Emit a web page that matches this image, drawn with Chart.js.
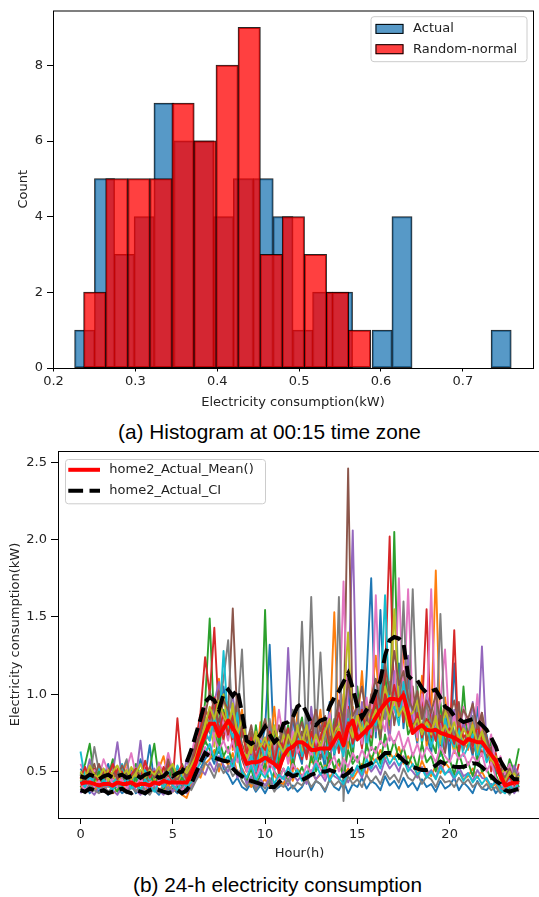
<!DOCTYPE html>
<html>
<head>
<meta charset="utf-8">
<title>Histogram and 24-h consumption</title>
<script src="https://cdn.jsdelivr.net/npm/chart.js@4.4.1/dist/chart.umd.min.js"></script>
<style>
    html, body { margin: 0; padding: 0; background: #fff; }
    body { position: relative; width: 539px; height: 897px; overflow: hidden; }
    canvas { position: absolute; left: 0; }
    #histChart { top: 0; }
    #lineChart { top: 440px; }
    .caption {
        position: absolute; left: 0; width: 539px; text-align: center;
        font-family: "Liberation Sans", Arial, sans-serif; font-size: 20.8px;
        line-height: 24px; color: #000; white-space: nowrap;
    }
</style>
</head>
<body>
<canvas id="histChart" width="539" height="420"></canvas>
<div class="caption" style="top: 419.7px;">(a) Histogram at 00:15 time zone</div>
<canvas id="lineChart" width="545" height="428"></canvas>
<div class="caption" style="top: 873px; left: 8px;">(b) 24-h electricity consumption</div>
<script>
(function() {
    'use strict';

    // ---- (a) histogram at 00:15: bin centres (kW) and counts ----
    var actualBins = [0.23809, 0.26232, 0.28654, 0.31076, 0.33499, 0.35921, 0.38344, 0.40766,
                      0.43188, 0.45611, 0.48033, 0.50456, 0.52878, 0.55300, 0.57723, 0.60145,
                      0.62568, 0.64990, 0.67412, 0.69835, 0.72257, 0.74680];
    var actualCounts = [1, 5, 3, 4, 7, 6, 6, 4, 5, 5, 4, 1, 2, 2, 0, 1, 4, 0, 0, 0, 0, 1];
    var randomBins = [0.25043, 0.27738, 0.30433, 0.33128, 0.35823, 0.38518, 0.41213,
                      0.43908, 0.46603, 0.49298, 0.51993, 0.54688, 0.57383];
    var randomCounts = [2, 5, 5, 5, 7, 6, 8, 9, 3, 4, 3, 2, 1];
    var histXTicks = [0.2, 0.3, 0.4, 0.5, 0.6, 0.7];
    var histYTicks = [0, 2, 4, 6, 8];

    // ---- (b) 24-h consumption, 15-min slots (kW) ----
    var hours = [0, 0.25, 0.5, 0.75, 1, 1.25, 1.5, 1.75, 2, 2.25, 2.5, 2.75, 3, 3.25, 3.5, 3.75,
                 4, 4.25, 4.5, 4.75, 5, 5.25, 5.5, 5.75, 6, 6.25, 6.5, 6.75, 7, 7.25, 7.5, 7.75,
                 8, 8.25, 8.5, 8.75, 9, 9.25, 9.5, 9.75, 10, 10.25, 10.5, 10.75, 11, 11.25, 11.5, 11.75,
                 12, 12.25, 12.5, 12.75, 13, 13.25, 13.5, 13.75, 14, 14.25, 14.5, 14.75, 15, 15.25, 15.5, 15.75,
                 16, 16.25, 16.5, 16.75, 17, 17.25, 17.5, 17.75, 18, 18.25, 18.5, 18.75, 19, 19.25, 19.5, 19.75,
                 20, 20.25, 20.5, 20.75, 21, 21.25, 21.5, 21.75, 22, 22.25, 22.5, 22.75, 23, 23.25, 23.5, 23.75];

    var day01 = [0.52,0.47,0.44,0.50, 0.41,0.46,0.55,0.43, 0.48,0.40,0.45,0.52, 0.44,0.58,0.47,0.67,
                 0.42,0.49,0.45,0.40, 0.47,0.53,0.44,0.50, 0.58,0.66,0.72,0.81, 0.75,0.92,0.68,1.05,
                 0.83,0.71,0.96,0.62, 0.55,0.70,0.48,0.66, 0.78,1.32,0.60,0.52, 0.70,0.58,0.85,0.64,
                 0.55,0.90,0.62,0.74, 0.68,0.52,0.95,0.60, 0.82,0.70,1.05,0.62, 0.90,0.66,1.12,1.75,
                 0.72,1.545,0.88,1.02, 0.95,1.20,0.78,1.10, 0.84,0.68,1.02,0.74, 0.62,0.88,0.70,0.95,
                 0.58,1.20,0.66,0.80, 0.72,0.60,0.92,0.66, 0.74,0.58,0.52,0.47, 0.42,0.50,0.38,0.45];
    var day02 = [0.45,0.50,0.42,0.47, 0.53,0.44,0.40,0.49, 0.42,0.47,0.56,0.44, 0.50,0.43,0.48,0.41,
                 0.46,0.52,0.60,0.45, 0.40,0.48,0.43,0.37, 0.45,0.62,0.55,0.78, 0.88,0.70,1.10,0.82,
                 0.95,0.64,0.78,0.90, 0.60,0.74,0.55,0.82, 0.50,0.66,0.92,0.58, 0.75,0.62,0.50,0.88,
                 0.64,0.78,0.56,0.70, 0.90,0.58,0.76,1.53, 0.70,1.00,0.65,0.92, 0.78,1.15,0.70,0.96,
                 1.25,0.85,1.05,0.72, 1.10,0.88,1.30,0.80, 0.92,0.70,1.12,0.66, 0.85,1.80,0.72,0.98,
                 0.76,0.62,0.90,0.70, 0.64,0.85,0.58,0.78, 0.68,0.55,0.60,0.44, 0.47,0.40,0.52,0.43];
    var day03 = [0.48,0.55,0.68,0.46, 0.50,0.42,0.47,0.58, 0.44,0.51,0.40,0.46, 0.55,0.47,0.42,0.52,
                 0.68,0.45,0.50,0.43, 0.49,0.41,0.55,0.46, 0.52,0.48,0.70,0.95, 1.49,0.78,0.62,0.90,
                 0.72,0.85,0.58,0.76, 0.64,0.52,0.80,0.60, 1.545,0.62,0.75,0.55, 0.68,0.80,0.57,0.72,
                 0.85,0.60,0.70,0.52, 0.62,0.78,0.55,0.84, 0.66,0.90,0.74,0.58, 1.05,0.72,0.86,0.64,
                 0.92,0.68,1.15,0.80, 2.05,0.85,0.98,0.74, 0.80,1.05,0.68,0.90, 0.70,0.62,0.95,0.66,
                 0.88,0.74,0.60,1.05, 0.66,0.78,0.55,0.72, 0.60,0.70,0.48,0.52, 0.45,0.58,0.50,0.65];
    var day04 = [0.43,0.40,0.47,0.52, 0.45,0.50,0.43,0.40, 0.52,0.45,0.48,0.42, 0.40,0.46,0.53,0.44,
                 0.48,0.42,0.46,0.55, 0.44,0.845,0.50,0.46, 0.55,0.70,0.88,1.24, 1.00,1.43,0.85,0.70,
                 0.92,0.66,0.80,0.58, 0.50,0.62,0.45,0.58, 0.70,0.52,0.66,0.48, 0.60,0.75,0.52,0.68,
                 0.58,0.72,0.85,0.60, 0.74,0.62,0.55,0.80, 0.62,0.78,0.92,0.70, 0.84,0.65,0.95,0.72,
                 1.00,0.82,1.12,2.02, 0.90,1.05,0.82,1.18, 0.95,0.78,0.88,1.55, 0.72,0.92,0.66,0.80,
                 0.70,1.415,0.62,0.78, 0.85,0.64,0.76,0.60, 0.72,0.50,0.62,0.46, 0.40,0.48,0.42,0.55];
    var day05 = [0.50,0.46,0.58,0.43, 0.47,0.52,0.44,0.49, 0.69,0.45,0.41,0.50, 0.46,0.70,0.43,0.48,
                 0.52,0.44,0.49,0.42, 0.46,0.50,0.42,0.58, 0.48,0.60,0.82,0.74, 0.70,0.95,1.08,0.76,
                 0.86,1.00,0.70,0.84, 0.66,0.58,0.72,0.50, 0.62,0.80,0.55,0.70, 0.58,1.30,0.66,0.82,
                 0.70,0.60,0.92,0.64, 0.80,0.66,0.58,0.74, 0.86,0.64,1.00,2.06, 0.72,0.95,0.68,0.88,
                 0.76,1.10,0.90,0.70, 1.15,0.86,0.96,1.25, 0.82,0.95,0.72,1.00, 0.90,0.70,0.84,0.64,
                 0.76,0.90,0.68,0.82, 0.70,0.95,0.64,1.31, 0.66,0.72,0.55,0.58, 0.50,0.44,0.54,0.47];
    var day06 = [0.46,0.42,0.50,0.55, 0.43,0.48,0.52,0.45, 0.49,0.53,0.46,0.40, 0.45,0.49,0.41,0.46,
                 0.50,0.47,0.43,0.52, 0.45,0.42,0.48,0.53, 0.50,0.58,0.66,0.72, 0.90,0.80,1.02,0.75,
                 0.88,1.555,0.82,0.68, 0.60,0.76,0.54,0.64, 0.72,0.58,0.68,0.80, 0.62,0.72,0.58,0.66,
                 0.76,0.62,0.66,0.88, 0.58,0.70,0.84,0.62, 0.92,0.74,2.46,0.80, 0.70,0.88,0.76,1.00,
                 0.85,0.72,0.95,1.08, 0.80,1.00,1.12,0.90, 1.05,0.80,0.92,0.70, 0.78,0.95,0.74,0.62,
                 0.84,0.70,0.95,0.66, 0.78,0.62,0.70,0.88, 0.58,0.66,0.50,0.55, 0.44,0.52,0.40,0.47];
    var day07 = [0.55,0.48,0.44,0.51, 0.46,0.58,0.50,0.44, 0.47,0.43,0.52,0.62, 0.48,0.44,0.55,0.50,
                 0.43,0.56,0.48,0.62, 0.51,0.46,0.40,0.49, 0.60,0.75,0.65,0.92, 0.82,0.72,0.95,0.80,
                 0.70,0.90,0.76,0.65, 0.55,0.68,0.62,0.74, 0.58,0.72,0.64,0.90, 0.70,0.55,0.76,0.62,
                 0.68,0.80,0.58,0.72, 0.62,0.74,0.88,0.66, 0.75,1.73,0.70,0.90, 0.80,0.68,0.98,0.74,
                 1.64,0.86,0.76,1.02, 0.88,1.75,0.92,1.68, 0.90,0.72,1.00,0.84, 1.68,0.80,0.96,1.29,
                 0.74,0.86,0.70,0.92, 0.80,0.66,1.00,0.72, 0.62,0.74,0.52,0.60, 0.48,0.55,0.44,0.50];
    var day08 = [0.47,0.52,0.45,0.66, 0.50,0.44,0.48,0.53, 0.45,0.50,0.58,0.43, 0.52,0.46,0.49,0.44,
                 0.47,0.50,0.44,0.48, 0.53,0.45,0.51,0.44, 0.62,0.55,0.78,0.68, 0.85,0.76,0.92,1.10,
                 1.35,0.78,0.86,1.29, 0.62,0.70,0.58,0.76, 0.66,0.84,0.60,0.72, 0.76,0.64,0.90,0.70,
                 1.47,0.66,1.63,0.72, 1.27,0.70,0.82,0.64, 1.63,0.31,0.90,0.76, 0.95,0.80,0.72,0.90,
                 0.78,1.10,0.84,0.96, 1.02,0.90,1.60,0.82, 1.68,0.86,0.78,0.94, 0.80,0.70,1.52,0.76,
                 0.88,0.72,0.80,0.64, 0.74,0.86,0.68,0.76, 0.70,0.60,0.56,0.50, 0.46,0.42,0.51,0.45];
    var day09 = [0.44,0.50,0.47,0.42, 0.48,0.45,0.51,0.47, 0.43,0.49,0.44,0.53, 0.47,0.51,0.45,0.49,
                 0.44,0.48,0.52,0.46, 0.50,0.44,0.47,0.52, 0.56,0.64,0.60,0.85, 0.78,0.66,0.90,1.00,
                 0.76,0.94,0.70,0.82, 0.58,0.66,0.74,0.56, 0.68,0.60,0.78,0.64, 0.74,0.60,0.70,0.80,
                 0.62,0.74,0.66,0.58, 0.72,0.84,0.64,0.76, 0.80,0.95,1.40,0.74, 0.86,0.76,0.92,0.82,
                 0.90,0.78,1.05,0.94, 1.55,0.92,1.00,0.86, 0.88,0.96,0.76,0.84, 0.74,0.86,0.68,0.90,
                 0.80,0.64,0.76,0.70, 0.68,0.80,0.62,0.74, 0.64,0.56,0.60,0.48, 0.52,0.46,0.49,0.43];
    var day10 = [0.63,0.45,0.40,0.48, 0.52,0.41,0.46,0.43, 0.46,0.55,0.42,0.47, 0.43,0.48,0.51,0.45,
                 0.49,0.43,0.47,0.50, 0.42,0.54,0.46,0.40, 0.47,0.52,0.60,0.76, 0.70,0.85,0.78,1.28,
                 0.80,0.72,0.88,0.60, 0.52,0.60,0.50,0.70, 0.56,0.74,0.50,0.66, 0.62,0.70,0.54,0.76,
                 0.60,0.68,0.74,0.56, 0.66,0.58,0.72,0.62, 0.70,0.60,0.84,0.66, 0.76,0.90,0.64,0.84,
                 0.80,0.95,1.64,0.88, 0.92,0.80,1.08,0.90, 0.76,0.88,0.70,0.82, 0.66,0.78,0.60,0.84,
                 0.72,0.66,0.78,0.60, 0.66,0.74,0.58,0.70, 0.56,0.62,0.46,0.42, 0.38,0.45,0.41,0.48];
    var day11 = [0.38,0.42,0.36,0.40, 0.37,0.41,0.35,0.39, 0.40,0.36,0.38,0.42, 0.36,0.39,0.35,0.41,
                 0.38,0.35,0.40,0.37, 0.39,0.36,0.41,0.38, 0.40,0.45,0.52,0.58, 0.62,0.55,0.66,0.52,
                 0.48,0.42,0.46,0.40, 0.38,0.43,0.37,0.41, 0.36,0.42,0.38,0.40, 0.43,0.38,0.41,0.37,
                 0.40,0.46,0.38,0.44, 0.42,0.37,0.45,0.40, 0.38,0.44,0.36,0.42, 0.40,0.46,0.39,0.44,
                 0.42,0.38,0.47,0.41, 0.44,0.39,0.46,0.40, 0.43,0.38,0.45,0.40, 0.42,0.37,0.44,0.39,
                 0.41,0.46,0.38,0.43, 0.40,0.36,0.44,0.39, 0.38,0.42,0.36,0.40, 0.36,0.40,0.37,0.41];
    var day12 = [0.40,0.37,0.43,0.38, 0.41,0.38,0.44,0.36, 0.38,0.42,0.37,0.40, 0.43,0.37,0.40,0.36,
                 0.41,0.39,0.36,0.42, 0.37,0.40,0.35,0.33, 0.42,0.50,0.46,0.55, 0.58,0.64,0.50,0.60,
                 0.54,0.62,0.48,0.52, 0.46,0.40,0.47,0.42, 0.45,0.40,0.48,0.43, 0.42,0.50,0.44,0.52,
                 0.47,0.43,0.50,0.45, 0.48,0.54,0.46,0.51, 0.55,0.47,0.52,0.45, 0.50,0.55,0.48,0.60,
                 0.56,0.64,0.58,0.62, 0.58,0.66,0.55,0.60, 0.54,0.48,0.57,0.50, 0.47,0.54,0.49,0.56,
                 0.52,0.46,0.50,0.45, 0.47,0.52,0.46,0.50, 0.44,0.40,0.42,0.37, 0.40,0.36,0.42,0.38];
    var day13 = [0.40,0.46,0.38,0.44, 0.50,0.39,0.45,0.41, 0.37,0.44,0.49,0.40, 0.46,0.38,0.43,0.50,
                 0.41,0.47,0.39,0.45, 0.52,0.40,0.46,0.42, 0.48,0.55,0.62,0.70, 0.64,0.58,0.72,0.60,
                 0.66,0.54,0.62,0.48, 0.44,0.52,0.40,0.48, 0.55,0.42,0.50,0.46, 0.52,0.44,0.58,0.47,
                 0.53,0.45,0.60,0.50, 0.56,0.48,0.62,0.52, 0.58,0.46,0.64,0.55, 0.60,0.50,0.68,0.57,
                 0.66,0.55,0.74,0.60, 0.70,0.58,0.66,0.54, 0.62,0.52,0.68,0.56, 0.60,0.50,0.64,0.55,
                 0.58,0.48,0.62,0.52, 0.56,0.47,0.60,0.50, 0.52,0.45,0.48,0.41, 0.44,0.38,0.46,0.40];
    var day14 = [0.46,0.53,0.44,0.49, 0.42,0.51,0.47,0.55, 0.45,0.50,0.43,0.48, 0.52,0.45,0.57,0.46,
                 0.50,0.44,0.53,0.47, 0.43,0.49,0.54,0.45, 0.52,0.64,0.78,0.90, 0.84,0.98,0.76,0.88,
                 0.74,0.86,0.66,0.78, 0.62,0.72,0.58,0.68, 0.64,0.76,0.56,0.70, 0.66,0.78,0.60,0.74,
                 0.70,0.58,0.76,0.64, 0.72,0.82,0.66,0.78, 0.88,0.72,0.82,0.68, 0.78,0.90,0.74,0.86,
                 0.96,0.82,1.00,0.88, 1.06,0.92,1.02,0.84, 0.76,0.88,0.72,0.84, 0.80,0.70,0.86,0.74,
                 0.78,0.68,0.82,0.72, 0.76,0.66,0.80,0.70, 0.64,0.58,0.52,0.46, 0.42,0.47,0.40,0.44];
    var day15 = [0.36,0.41,0.38,0.35, 0.40,0.37,0.42,0.38, 0.35,0.40,0.37,0.43, 0.38,0.35,0.41,0.37,
                 0.42,0.38,0.35,0.40, 0.37,0.42,0.38,0.36, 0.40,0.46,0.52,0.48, 0.56,0.50,0.60,0.54,
                 0.50,0.58,0.46,0.52, 0.42,0.47,0.40,0.45, 0.41,0.46,0.39,0.44, 0.47,0.41,0.49,0.44,
                 0.48,0.42,0.51,0.45, 0.49,0.44,0.52,0.47, 0.45,0.50,0.43,0.49, 0.52,0.46,0.55,0.50,
                 0.54,0.48,0.58,0.52, 0.56,0.50,0.60,0.53, 0.50,0.46,0.53,0.48, 0.51,0.46,0.55,0.49,
                 0.50,0.45,0.53,0.47, 0.49,0.44,0.51,0.46, 0.45,0.41,0.43,0.39, 0.37,0.41,0.36,0.40];
    var day16 = [0.48,0.43,0.52,0.46, 0.55,0.47,0.42,0.50, 0.46,0.54,0.48,0.44, 0.51,0.47,0.44,0.53,
                 0.46,0.51,0.45,0.58, 0.48,0.44,0.52,0.47, 0.56,0.68,0.74,0.86, 1.02,0.90,0.82,0.96,
                 0.90,0.78,0.98,0.74, 0.68,0.80,0.64,0.74, 0.84,0.70,0.78,0.66, 0.80,0.68,0.86,0.72,
                 0.82,0.70,0.78,0.90, 0.76,0.86,0.70,0.80, 0.96,0.82,1.10,0.86, 0.92,1.05,0.84,0.98,
                 1.10,0.92,1.20,1.00, 1.28,1.06,1.15,0.98, 0.90,1.02,0.84,0.96, 0.88,1.00,0.82,0.92,
                 0.86,0.96,0.80,0.90, 0.84,0.94,0.78,0.88, 0.72,0.62,0.56,0.50, 0.46,0.52,0.44,0.49];
    var day17 = [0.42,0.38,0.45,0.40, 0.44,0.39,0.47,0.42, 0.40,0.45,0.39,0.44, 0.41,0.46,0.40,0.43,
                 0.39,0.45,0.41,0.46, 0.40,0.44,0.38,0.43, 0.46,0.52,0.58,0.66, 0.60,0.72,0.64,0.70,
                 0.62,0.70,0.56,0.64, 0.50,0.56,0.46,0.54, 0.48,0.56,0.50,0.44, 0.52,0.46,0.55,0.50,
                 0.46,0.54,0.49,0.57, 0.52,0.46,0.55,0.60, 0.50,0.58,0.53,0.62, 0.56,0.64,0.58,0.66,
                 0.62,0.70,0.66,0.74, 0.68,0.76,0.64,0.72, 0.60,0.68,0.58,0.66, 0.62,0.56,0.66,0.60,
                 0.56,0.64,0.58,0.62, 0.54,0.60,0.56,0.62, 0.50,0.56,0.46,0.42, 0.40,0.44,0.39,0.43];
    var day18 = [0.39,0.36,0.42,0.38, 0.36,0.41,0.37,0.40, 0.42,0.38,0.36,0.40, 0.37,0.42,0.38,0.35,
                 0.40,0.36,0.42,0.38, 0.41,0.37,0.40,0.44, 0.38,0.44,0.49,0.56, 0.52,0.46,0.55,0.49,
                 0.54,0.47,0.51,0.44, 0.40,0.45,0.38,0.43, 0.39,0.44,0.37,0.42, 0.40,0.45,0.39,0.43,
                 0.41,0.46,0.40,0.44, 0.42,0.38,0.45,0.41, 0.44,0.39,0.47,0.42, 0.45,0.40,0.48,0.43,
                 0.47,0.42,0.50,0.45, 0.48,0.43,0.52,0.46, 0.44,0.49,0.42,0.47, 0.45,0.40,0.47,0.43,
                 0.44,0.40,0.46,0.42, 0.45,0.40,0.43,0.39, 0.42,0.38,0.40,0.36, 0.39,0.35,0.40,0.37];
    var day19 = [0.50,0.45,0.54,0.48, 0.46,0.52,0.44,0.50, 0.54,0.47,0.51,0.45, 0.49,0.55,0.46,0.51,
                 0.48,0.53,0.46,0.51, 0.55,0.47,0.52,0.49, 0.54,0.60,0.70,0.80, 0.92,0.84,0.96,0.86,
                 0.80,0.92,0.74,0.84, 0.70,0.62,0.76,0.66, 0.72,0.64,0.80,0.68, 0.62,0.74,0.66,0.78,
                 0.68,0.80,0.64,0.74, 0.66,0.76,0.84,0.70, 0.78,0.66,0.80,0.72, 0.86,0.74,0.82,0.78,
                 0.88,0.80,0.94,0.84, 0.98,0.86,0.92,0.80, 0.78,0.84,0.74,0.82, 0.76,0.84,0.72,0.80,
                 0.74,0.82,0.70,0.78, 0.72,0.80,0.68,0.76, 0.66,0.58,0.54,0.48, 0.44,0.50,0.43,0.47];
    var day20 = [0.44,0.40,0.47,0.42, 0.39,0.45,0.41,0.38, 0.44,0.40,0.46,0.39, 0.42,0.38,0.45,0.41,
                 0.37,0.43,0.40,0.45, 0.41,0.38,0.44,0.40, 0.43,0.50,0.56,0.62, 0.68,0.58,0.66,0.56,
                 0.60,0.52,0.66,0.50, 0.46,0.54,0.44,0.50, 0.46,0.52,0.42,0.48, 0.45,0.53,0.47,0.51,
                 0.44,0.50,0.47,0.55, 0.48,0.53,0.44,0.50, 0.46,0.42,0.50,0.47, 0.54,0.48,0.58,0.52,
                 0.58,0.52,0.62,0.55, 0.60,0.54,0.58,0.50, 0.55,0.48,0.52,0.46, 0.50,0.45,0.53,0.48,
                 0.52,0.46,0.50,0.44, 0.49,0.43,0.47,0.42, 0.46,0.40,0.44,0.38, 0.36,0.41,0.38,0.43];

    var meanLine = [0.42,0.43,0.43,0.42, 0.41,0.42,0.42,0.41, 0.43,0.42,0.42,0.43, 0.41,0.42,0.42,0.41,
                    0.43,0.42,0.44,0.43, 0.43,0.43,0.43,0.43, 0.48,0.56,0.66,0.74, 0.81,0.81,0.73,0.78,
                    0.83,0.78,0.73,0.62, 0.55,0.56,0.56,0.57, 0.59,0.57,0.55,0.52, 0.60,0.645,0.66,0.69,
                    0.69,0.67,0.64,0.64, 0.65,0.65,0.65,0.70, 0.75,0.67,0.79,0.83, 0.71,0.74,0.77,0.80,
                    0.85,0.90,0.94,0.97, 0.97,0.96,0.995,0.88, 0.75,0.78,0.80,0.77, 0.765,0.77,0.75,0.74,
                    0.73,0.72,0.70,0.68, 0.71,0.70,0.69,0.69, 0.65,0.61,0.57,0.48, 0.41,0.42,0.43,0.43];
    var ciUpper = [0.47,0.46,0.48,0.47, 0.45,0.47,0.48,0.46, 0.47,0.48,0.46,0.47, 0.48,0.46,0.48,0.49,
                   0.48,0.46,0.47,0.50, 0.47,0.49,0.50,0.56, 0.64,0.74,0.84,0.95, 0.98,0.96,0.90,1.00,
                   1.03,0.99,1.03,0.88, 0.70,0.68,0.70,0.74, 0.79,0.74,0.69,0.72, 0.81,0.82,0.85,0.92,
                   0.94,0.88,0.81,0.80, 0.83,0.84,0.92,0.98, 1.02,1.08,1.135,1.04, 0.92,0.85,0.90,0.94,
                   1.02,1.09,1.25,1.35, 1.37,1.36,1.33,1.12, 1.09,1.09,1.04,1.01, 1.02,1.03,0.98,0.92,
                   0.90,0.86,0.84,0.82, 0.83,0.84,0.83,0.80, 0.77,0.72,0.66,0.57, 0.52,0.48,0.45,0.45];
    var ciLower = [0.38,0.37,0.39,0.38, 0.37,0.38,0.36,0.37, 0.38,0.39,0.37,0.36, 0.38,0.37,0.36,0.38,
                   0.39,0.38,0.37,0.36, 0.37,0.38,0.36,0.38, 0.42,0.49,0.56,0.62, 0.60,0.59,0.58,0.57,
                   0.565,0.52,0.49,0.47, 0.446,0.44,0.43,0.42, 0.41,0.40,0.40,0.43, 0.46,0.49,0.47,0.48,
                   0.446,0.46,0.48,0.49, 0.50,0.50,0.51,0.50, 0.48,0.47,0.49,0.52, 0.52,0.53,0.54,0.555,
                   0.57,0.59,0.62,0.62, 0.62,0.60,0.57,0.55, 0.53,0.52,0.51,0.51, 0.52,0.54,0.565,0.55,
                   0.54,0.532,0.53,0.532, 0.54,0.554,0.55,0.53, 0.50,0.47,0.44,0.42, 0.38,0.37,0.38,0.39];

    var lineXTicks = [0, 5, 10, 15, 20];
    var lineYTicks = [0.5, 1.0, 1.5, 2.0, 2.5];

    var days = [day01, day02, day03, day04, day05, day06, day07, day08, day09, day10,
                day11, day12, day13, day14, day15, day16, day17, day18, day19, day20];
    var tab10 = ['#1f77b4', '#ff7f0e', '#2ca02c', '#d62728', '#9467bd',
                 '#8c564b', '#e377c2', '#7f7f7f', '#bcbd22', '#17becf'];

    Chart.defaults.font.family = '"DejaVu Sans", sans-serif';
    Chart.defaults.font.size = 13;
    Chart.defaults.color = '#222';
    Chart.defaults.animation = false;

    // matplotlib draws a full box round the axes
    var framePlugin = {
        id: 'frame',
        afterDatasetsDraw: function(chart) {
            var a = chart.chartArea, ctx = chart.ctx;
            ctx.save();
            ctx.strokeStyle = '#000';
            ctx.lineWidth = 1;
            ctx.strokeRect(a.left + 0.5, a.top + 0.5, a.right - a.left, a.bottom - a.top);
            ctx.restore();
        }
    };

    function roundedBox(ctx, x, y, w, h, r) {
        ctx.beginPath();
        ctx.moveTo(x + r, y);
        ctx.arcTo(x + w, y, x + w, y + h, r);
        ctx.arcTo(x + w, y + h, x, y + h, r);
        ctx.arcTo(x, y + h, x, y, r);
        ctx.arcTo(x, y, x + w, y, r);
        ctx.closePath();
    }

    // legend box inside the axes, styled like matplotlib's
    function makeLegend(cfg) {
        return {
            id: 'boxLegend',
            afterDraw: function(chart) {
                var ctx = chart.ctx, a = chart.chartArea;
                var left = cfg.corner === 'right' ? a.right - cfg.dx - cfg.width : a.left + cfg.dx;
                var top = a.top + cfg.dy;
                ctx.save();
                roundedBox(ctx, left + 0.5, top + 0.5, cfg.width, cfg.height, 3);
                ctx.fillStyle = 'rgba(255,255,255,0.8)';
                ctx.fill();
                ctx.strokeStyle = '#cccccc';
                ctx.lineWidth = 1;
                ctx.stroke();
                ctx.font = cfg.fontSize + 'px "DejaVu Sans"';
                ctx.textBaseline = 'middle';
                cfg.items.forEach(function(idx, i) {
                    var ds = chart.data.datasets[idx];
                    var cy = top + cfg.rows[i];
                    if (cfg.kind === 'patch') {
                        ctx.fillStyle = ds.backgroundColor;
                        ctx.fillRect(left + cfg.markX, cy - 5, cfg.markW, 10);
                        ctx.strokeStyle = '#000';
                        ctx.lineWidth = 1;
                        ctx.strokeRect(left + cfg.markX + 0.5, cy - 4.5, cfg.markW - 1, 9);
                    } else {
                        ctx.beginPath();
                        ctx.setLineDash(ds.borderDash || []);
                        ctx.strokeStyle = ds.borderColor;
                        ctx.lineWidth = ds.borderWidth;
                        ctx.moveTo(left + cfg.markX, cy);
                        ctx.lineTo(left + cfg.markX + cfg.markW, cy);
                        ctx.stroke();
                        ctx.setLineDash([]);
                    }
                    ctx.fillStyle = '#222';
                    ctx.fillText(ds.label, left + cfg.textX, cy);
                });
                ctx.restore();
            }
        };
    }

    function fixedTicks(list) {
        return function(axis) {
            axis.ticks = list.map(function(v) { return {value: v}; });
        };
    }

    function toPoints(xs, ys) {
        return xs.map(function(x, i) { return {x: x, y: ys[i]}; });
    }

    // ---------------- (a) ----------------
    new Chart(document.getElementById('histChart'), {
        type: 'bar',
        data: {
            datasets: [{
                label: 'Actual',
                xAxisID: 'x',
                data: toPoints(actualBins, actualCounts),
                backgroundColor: 'rgba(31,119,180,0.75)',
                borderColor: 'rgba(0,0,0,0.85)',
                borderWidth: 1,
                borderSkipped: false,
                inflateAmount: 0.5,
                grouped: false,
                barPercentage: 1,
                categoryPercentage: 1,
                order: 2
            }, {
                label: 'Random-normal',
                xAxisID: 'x2',
                data: toPoints(randomBins, randomCounts),
                backgroundColor: 'rgba(255,0,0,0.75)',
                borderColor: 'rgba(0,0,0,0.85)',
                borderWidth: 1,
                borderSkipped: false,
                inflateAmount: 0.5,
                grouped: false,
                barPercentage: 1,
                categoryPercentage: 1,
                order: 1
            }]
        },
        options: {
            responsive: false,
            layout: {padding: {top: 9, right: 6, left: 0, bottom: 0}},
            plugins: {legend: {display: false}, tooltip: {enabled: false}},
            scales: {
                x: {
                    type: 'linear', min: 0.1994, max: 0.7857, offset: false,
                    afterBuildTicks: fixedTicks(histXTicks),
                    afterFit: function(s) { s.height = 52; },
                    grid: {offset: false, drawOnChartArea: false, tickLength: 3.5, color: '#000'},
                    border: {display: false},
                    ticks: {autoSkip: false, maxRotation: 0, padding: 4, font: {lineHeight: 1},
                            callback: function(v) { return v.toFixed(1); }},
                    title: {display: true, text: 'Electricity consumption(kW)', padding: {top: 0, bottom: 9.5}}
                },
                x2: {
                    type: 'linear', min: 0.1994, max: 0.7857, offset: false, display: false,
                    grid: {offset: false}
                },
                y: {
                    type: 'linear', min: 0, max: 9.45,
                    afterBuildTicks: fixedTicks(histYTicks),
                    afterFit: function(s) { s.width = 53; },
                    grid: {drawOnChartArea: false, tickLength: 6, color: '#000'},
                    border: {display: false},
                    ticks: {padding: 4, font: {lineHeight: 1}},
                    title: {display: true, text: 'Count', padding: {top: 15.5, bottom: 0}}
                }
            }
        },
        plugins: [framePlugin, makeLegend({
            corner: 'right', dx: 6.5, dy: 5.7, width: 156, height: 45,
            rows: [12.7, 33], items: [0, 1], kind: 'patch',
            markX: 5, markW: 28, textX: 42.6, fontSize: 13
        })]
    });

    // ---------------- (b) ----------------
    var lineSets = days.map(function(d, i) {
        return {
            label: 'day ' + (i + 1),
            data: d,
            borderColor: tab10[i % tab10.length],
            borderWidth: 1.9,
            borderJoinStyle: 'round',
            pointRadius: 0,
            order: 100 - i
        };
    });
    lineSets.push({
        label: 'home2_Actual_Mean()',
        data: meanLine,
        borderColor: '#ff0000',
        borderWidth: 4,
        borderJoinStyle: 'round',
        pointRadius: 0,
        order: 1
    });
    lineSets.push({
        label: 'home2_Actual_CI',
        data: ciUpper,
        borderColor: '#000',
        borderWidth: 4,
        borderDash: [14.8, 6.4],
        pointRadius: 0,
        order: 0
    });
    lineSets.push({
        label: 'home2_Actual_CI',
        data: ciLower,
        borderColor: '#000',
        borderWidth: 4,
        borderDash: [14.8, 6.4],
        pointRadius: 0,
        order: 0
    });

    new Chart(document.getElementById('lineChart'), {
        type: 'line',
        data: {labels: hours, datasets: lineSets},
        options: {
            responsive: false,
            layout: {padding: {top: 11, right: 4, left: 0, bottom: 0}},
            plugins: {legend: {display: false}, tooltip: {enabled: false}},
            scales: {
                x: {
                    type: 'linear', min: -1.22, max: 24.95,
                    afterBuildTicks: fixedTicks(lineXTicks),
                    afterFit: function(s) { s.height = 50; },
                    grid: {drawOnChartArea: false, tickLength: 6, color: '#000'},
                    border: {display: false},
                    ticks: {autoSkip: false, maxRotation: 0, padding: 4.5, font: {lineHeight: 1},
                            callback: function(v) { return String(v); }},
                    title: {display: true, text: 'Hour(h)', padding: {top: 0, bottom: 6.9}}
                },
                y: {
                    type: 'linear', min: 0.2, max: 2.573,
                    afterBuildTicks: fixedTicks(lineYTicks),
                    afterFit: function(s) { s.width = 58; },
                    grid: {drawOnChartArea: false, tickLength: 7, color: '#000'},
                    border: {display: false},
                    ticks: {padding: 4, font: {lineHeight: 1},
                            callback: function(v) { return v.toFixed(1); }},
                    title: {display: true, text: 'Electricity consumption(kW)', padding: {top: 7.5, bottom: 0}}
                }
            }
        },
        plugins: [framePlugin, makeLegend({
            corner: 'left', dx: 7, dy: 8, width: 200, height: 44.3,
            rows: [10.8, 31.7], items: [days.length, days.length + 1], kind: 'line',
            markX: 3.3, markW: 31.7, textX: 44.3, fontSize: 13
        })]
    });
})();
</script>
</body>
</html>
